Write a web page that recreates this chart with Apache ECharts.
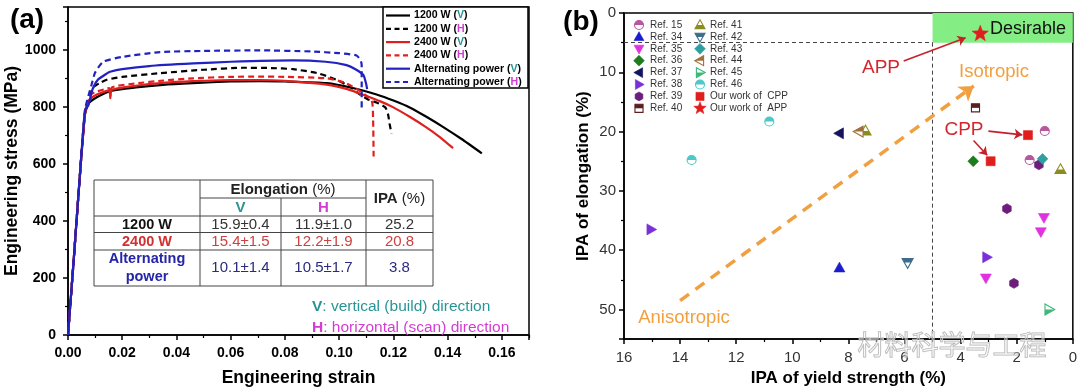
<!DOCTYPE html>
<html><head><meta charset="utf-8">
<script src="https://cdn.jsdelivr.net/npm/echarts@6/dist/echarts.min.js"></script>
<style>html,body{margin:0;padding:0;background:#fff}#c{width:1080px;height:392px}</style>
</head><body><div id="c"></div>
<script>
const F = 'Liberation Sans, Arial, Helvetica, sans-serif';

// ---------- Panel (a): tensile curves [engineering strain, engineering stress (MPa)]
const c1200V = [[0,0],[0.002,250],[0.004,510],[0.0062,770],[0.0075,810],[0.01,830],[0.0155,855],[0.025,868],[0.035,877],[0.046,883],[0.06,889],[0.0708,890],[0.08,889],[0.0954,883],[0.105,866],[0.1138,843],[0.12,822],[0.126,798],[0.132,766],[0.1384,729],[0.145,688],[0.1526,637]];
const c1200H = [[0,0],[0.002,250],[0.004,510],[0.0063,780],[0.0085,850],[0.0095,870],[0.012,885],[0.0143,895],[0.02,905],[0.034,918],[0.05,930],[0.0646,937],[0.075,936],[0.083,932],[0.092,918],[0.099,895],[0.104,870],[0.1077,843],[0.1106,826],[0.1138,815],[0.117,798],[0.118,775],[0.1186,740],[0.1193,706]];
const c2400V = [[0,0],[0.002,250],[0.004,510],[0.0063,780],[0.0075,821],[0.01,840],[0.014,855],[0.0152,858],[0.0156,838],[0.0162,860],[0.025,874],[0.035,884],[0.046,890],[0.06,894],[0.0708,894],[0.08,891],[0.0954,878],[0.103,862],[0.11,838],[0.115,820],[0.12,798],[0.126,765],[0.132,729],[0.137,695],[0.142,655]];
const c2400H = [[0,0],[0.002,250],[0.004,510],[0.0063,780],[0.008,838],[0.01,852],[0.0145,864],[0.0152,866],[0.0156,830],[0.0162,868],[0.025,882],[0.035,892],[0.046,900],[0.06,905],[0.0708,906],[0.08,905],[0.0954,900],[0.102,885],[0.1077,855],[0.112,821],[0.1125,760],[0.1127,626]];
const cAltV = [[0,0],[0.002,250],[0.004,510],[0.0063,790],[0.0075,805],[0.009,860],[0.011,895],[0.0145,918],[0.0155,923],[0.02,932],[0.03,943],[0.0462,952],[0.06,958],[0.083,963],[0.095,958],[0.1027,946],[0.106,932],[0.1089,912],[0.110,878],[0.1103,862]];
const cAltH = [[0,0],[0.002,250],[0.004,510],[0.0063,790],[0.0087,878],[0.01,920],[0.013,958],[0.02,975],[0.034,992],[0.05,996],[0.0708,998],[0.09,994],[0.1,988],[0.1064,980],[0.108,960],[0.1083,946],[0.1083,860],[0.1083,786]];

// table of panel (a)
const tableRows = ['1200 W', '2400 W', 'Alternating\npower'];
const elongV = ['15.9\u00b10.4', '15.4\u00b11.5', '10.1\u00b11.4'];
const elongH = ['11.9\u00b11.0', '12.2\u00b11.9', '10.5\u00b11.7'];
const ipaVals = ['25.2', '20.8', '3.8'];

// ---------- Panel (b): [IPA of yield strength (%), IPA of elongation (%)]
const ref15 = [[1.0,19.9],[1.54,24.8]];
const ref34 = [[8.32,43.0]];
const ref35 = [[1.03,34.5],[1.14,36.9],[3.1,44.7]];
const ref36 = [[3.55,25.0]];
const ref37 = [[8.32,20.3]];
const ref38 = [[15.04,36.5],[3.07,41.2]];
const ref39 = [[1.21,25.6],[2.35,33.0],[2.1,45.6]];
const ref40 = [[3.47,16.0]];
const ref41 = [[7.39,19.9],[0.44,26.4]];
const ref42 = [[5.89,42.1]];
const ref43 = [[1.08,24.6]];
const ref44 = [[7.62,20.0]];
const ref45 = [[0.85,50.0]];
const ref46 = [[10.82,18.3],[13.59,24.8]];
const cppWork = [[1.6,20.6],[2.93,25.0]];
const appWork = [[3.3,3.5]];

const desirableZone = [[5,0],[0,5]];
const limitV = [[5,5],[5,55]];
const limitH = [[16,5],[5,5]];
const isoArrow = [[14.0,48.5],[3.53,12.3]];
const appArrow = [[6.03,8.1],[3.82,4.19]];
const cppArrow1 = [[3.01,19.93],[1.8,20.55]];
const cppArrow2 = [[3.54,21.5],[3.05,24.0]];

// ---------- symbol drawing helpers
function polyPts(kind, cx, cy, s) {
  const r = s / 2;
  switch (kind) {
    case 'tri': return [[cx, cy - r * 1.15], [cx + r * 1.1, cy + r * 0.8], [cx - r * 1.1, cy + r * 0.8]];
    case 'tridown': return [[cx, cy + r * 1.15], [cx + r * 1.1, cy - r * 0.8], [cx - r * 1.1, cy - r * 0.8]];
    case 'trileft': return [[cx - r * 1.15, cy], [cx + r * 0.8, cy - r * 1.1], [cx + r * 0.8, cy + r * 1.1]];
    case 'triright': return [[cx + r * 1.15, cy], [cx - r * 0.8, cy - r * 1.1], [cx - r * 0.8, cy + r * 1.1]];
    case 'diamond': return [[cx, cy - r * 1.2], [cx + r * 1.2, cy], [cx, cy + r * 1.2], [cx - r * 1.2, cy]];
    case 'square': return [[cx - r * 0.9, cy - r * 0.9], [cx + r * 0.9, cy - r * 0.9], [cx + r * 0.9, cy + r * 0.9], [cx - r * 0.9, cy + r * 0.9]];
    case 'hex': { const p = []; for (let i = 0; i < 6; i++) { const a = Math.PI / 6 + i * Math.PI / 3; p.push([cx + r * Math.cos(a), cy + r * Math.sin(a)]); } return p; }
    case 'star': { const p = []; for (let i = 0; i < 10; i++) { const a = -Math.PI / 2 + i * Math.PI / 5; const rr = i % 2 ? r * 0.42 : r; p.push([cx + rr * Math.cos(a), cy + rr * Math.sin(a)]); } return p; }
  }
}
function clipHalf(pts, cy, keep) {
  const inside = p => keep === 'top' ? p[1] <= cy : p[1] >= cy;
  const out = [];
  for (let i = 0; i < pts.length; i++) {
    const a = pts[i], b = pts[(i + 1) % pts.length];
    const ia = inside(a), ib = inside(b);
    if (ia) out.push(a);
    if (ia !== ib) { const t = (cy - a[1]) / (b[1] - a[1]); out.push([a[0] + t * (b[0] - a[0]), cy]); }
  }
  return out;
}
function symbolEls(kind, color, half, cx, cy, s) {
  const els = [];
  if (kind === 'circle') {
    const r = s / 2;
    if (half) {
      els.push({ type: 'circle', shape: { cx, cy, r }, style: { fill: '#fff' } });
      els.push({ type: 'sector', shape: { cx, cy, r, r0: 0, startAngle: half === 'top' ? Math.PI : 0, endAngle: half === 'top' ? Math.PI * 2 : Math.PI, clockwise: true }, style: { fill: color } });
      els.push({ type: 'circle', shape: { cx, cy, r }, style: { fill: 'none', stroke: color, lineWidth: 1.1 } });
    } else {
      els.push({ type: 'circle', shape: { cx, cy, r }, style: { fill: color } });
    }
  } else {
    const pts = polyPts(kind, cx, cy, s);
    if (half) {
      els.push({ type: 'polygon', shape: { points: pts }, style: { fill: '#fff' } });
      els.push({ type: 'polygon', shape: { points: clipHalf(pts, cy, half) }, style: { fill: color } });
      els.push({ type: 'polygon', shape: { points: pts }, style: { fill: 'none', stroke: color, lineWidth: 1.1 } });
    } else {
      els.push({ type: 'polygon', shape: { points: pts }, style: { fill: color, stroke: color, lineWidth: 0.6 } });
    }
  }
  return els;
}

const refs = [
  { name: 'Ref. 15', data: ref15, kind: 'circle', color: '#B8579E', half: 'top', size: 9 },
  { name: 'Ref. 34', data: ref34, kind: 'tri', color: '#1C1CCF', half: null, size: 10 },
  { name: 'Ref. 35', data: ref35, kind: 'tridown', color: '#E033E0', half: null, size: 10 },
  { name: 'Ref. 36', data: ref36, kind: 'diamond', color: '#1E7B1E', half: null, size: 9 },
  { name: 'Ref. 37', data: ref37, kind: 'trileft', color: '#14145E', half: null, size: 10 },
  { name: 'Ref. 38', data: ref38, kind: 'triright', color: '#7A2FD8', half: null, size: 10 },
  { name: 'Ref. 39', data: ref39, kind: 'hex', color: '#6B1F7A', half: null, size: 10 },
  { name: 'Ref. 40', data: ref40, kind: 'square', color: '#5C1E1E', half: 'top', size: 9 },
  { name: 'Ref. 41', data: ref41, kind: 'tri', color: '#8C8C1E', half: 'bottom', size: 10 },
  { name: 'Ref. 42', data: ref42, kind: 'tridown', color: '#3D6C8C', half: 'top', size: 10 },
  { name: 'Ref. 43', data: ref43, kind: 'diamond', color: '#2E9E9E', half: null, size: 9 },
  { name: 'Ref. 44', data: ref44, kind: 'trileft', color: '#A0703C', half: 'top', size: 10 },
  { name: 'Ref. 45', data: ref45, kind: 'triright', color: '#3CB878', half: 'bottom', size: 10 },
  { name: 'Ref. 46', data: ref46, kind: 'circle', color: '#4CC8C8', half: 'top', size: 9 },
  { name: 'Our work of  CPP', data: cppWork, kind: 'square', color: '#E01E1E', half: null, size: 10 },
  { name: 'Our work of  APP', data: appWork, kind: 'star', color: '#E01E1E', half: null, size: 17 }
];

// ---------- text helper
function T(x, y, text, o) {
  o = o || {};
  const size = o.size || 14, weight = o.weight || 'normal', fam = o.family || F;
  const style = {
    text, x: 0, y: 0, fill: o.color || '#000',
    font: weight + ' ' + size + 'px ' + fam,
    fontSize: size, fontWeight: weight, fontFamily: fam,
    textAlign: o.align || 'center', textVerticalAlign: 'middle',
    align: o.align || 'center', verticalAlign: 'middle',
    lineHeight: o.lineHeight || size * 1.2
  };
  if (o.stroke) { style.stroke = o.stroke; style.lineWidth = o.lineWidth || 1; }
  if (o.rich) style.rich = o.rich;
  return { type: 'text', x, y, rotation: o.rotation || 0, z: 100, style };
}
function L(x1, y1, x2, y2, color, w, dash) {
  return { type: 'line', z: 100, shape: { x1, y1, x2, y2 }, style: { stroke: color, lineWidth: w, lineDash: dash || null } };
}

const TEAL = '#2A9494', MAG = '#D43CD4';
const graphics = [];
// panel labels
graphics.push(T(27, 20, '(a)', { size: 28, weight: 'bold' }));
graphics.push(T(581, 22, '(b)', { size: 28, weight: 'bold' }));

// legend (a)
graphics.push({ type: 'rect', z: 99, shape: { x: 383, y: 7, width: 145, height: 81 }, style: { fill: '#fff', stroke: '#000', lineWidth: 1.5 } });
const legA = [
  { n: '1200 W', d: 'V', c: '#000', dash: false }, { n: '1200 W', d: 'H', c: '#000', dash: true },
  { n: '2400 W', d: 'V', c: '#E0201E', dash: false }, { n: '2400 W', d: 'H', c: '#E0201E', dash: true },
  { n: 'Alternating power', d: 'V', c: '#2222C0', dash: false }, { n: 'Alternating power', d: 'H', c: '#2222C0', dash: true }
];
const legFont = 10.6;
legA.forEach((e, i) => {
  const y = 15.5 + 13.3 * i;
  graphics.push(L(386, y, 410, y, e.c, 2.2, e.dash ? [5, 3.5] : null));
  const key = e.d === 'V' ? 'v' : 'h';
  graphics.push(T(414, y, e.n + ' ({' + key + '|' + e.d + '})', {
    size: legFont, weight: 'bold', align: 'left',
    rich: {
      v: { fill: TEAL, fontWeight: 'bold', fontSize: legFont, fontFamily: F },
      h: { fill: MAG, fontWeight: 'bold', fontSize: legFont, fontFamily: F }
    }
  }));
});

// table (a)
const TB = { x0: 94, x1: 200, x2: 281, x3: 366, x4: 433, y0: 180, y1: 198, y2: 216, y3: 232.5, y4: 250, y5: 286 };
graphics.push({ type: 'rect', z: 99, shape: { x: TB.x0, y: TB.y0, width: TB.x4 - TB.x0, height: TB.y5 - TB.y0 }, style: { fill: '#fff', stroke: '#444', lineWidth: 1 } });
graphics.push(L(TB.x1, TB.y0, TB.x1, TB.y5, '#444', 1));
graphics.push(L(TB.x3, TB.y0, TB.x3, TB.y5, '#444', 1));
graphics.push(L(TB.x2, TB.y1, TB.x2, TB.y5, '#444', 1));
graphics.push(L(TB.x1, TB.y1, TB.x3, TB.y1, '#444', 1));
graphics.push(L(TB.x0, TB.y2, TB.x4, TB.y2, '#444', 1));
graphics.push(L(TB.x0, TB.y3, TB.x4, TB.y3, '#444', 1));
graphics.push(L(TB.x0, TB.y4, TB.x4, TB.y4, '#444', 1));
const tf = 15;
graphics.push(T((TB.x1 + TB.x3) / 2, 189.5, '{b|Elongation} (%)', { size: tf, color: '#222', rich: { b: { fontWeight: 'bold', fontSize: tf, fontFamily: F, fill: '#222' } } }));
graphics.push(T((TB.x1 + TB.x2) / 2, 207.5, 'V', { size: tf, weight: 'bold', color: TEAL }));
graphics.push(T((TB.x2 + TB.x3) / 2, 207.5, 'H', { size: tf, weight: 'bold', color: MAG }));
graphics.push(T((TB.x3 + TB.x4) / 2, 198.5, '{b|IPA} (%)', { size: tf, color: '#222', rich: { b: { fontWeight: 'bold', fontSize: tf, fontFamily: F, fill: '#222' } } }));
const rowY = [224.5, 241.5, 268];
const rowLabelColor = ['#111', '#D42F2F', '#2525A8'];
const rowValColor = ['#333', '#D04040', '#2A2A80'];
tableRows.forEach((r, i) => {
  graphics.push(T((TB.x0 + TB.x1) / 2, rowY[i], r, { size: 14.5, weight: 'bold', color: rowLabelColor[i], lineHeight: 18 }));
  graphics.push(T((TB.x1 + TB.x2) / 2, rowY[i], elongV[i], { size: tf, color: rowValColor[i] }));
  graphics.push(T((TB.x2 + TB.x3) / 2, rowY[i], elongH[i], { size: tf, color: rowValColor[i] }));
  graphics.push(T((TB.x3 + TB.x4) / 2, rowY[i], ipaVals[i], { size: tf, color: rowValColor[i] }));
});
graphics.push(T(312, 307, '{b|V}: vertical (build) direction', { size: 15.5, color: TEAL, align: 'left', rich: { b: { fontWeight: 'bold', fontSize: 15.5, fontFamily: F, fill: TEAL } } }));
graphics.push(T(312, 327.5, '{b|H}: horizontal (scan) direction', { size: 15.5, color: MAG, align: 'left', rich: { b: { fontWeight: 'bold', fontSize: 15.5, fontFamily: F, fill: MAG } } }));

// legend (b)
refs.forEach((r, i) => {
  const col = Math.floor(i / 8), row = i % 8;
  const sx = col ? 700 : 639, tx = col ? 710 : 650, y = 25 + 11.9 * row;
  const s = r.kind === 'star' ? 13 : 9;
  graphics.push({ type: 'group', z: 100, children: symbolEls(r.kind, r.color, r.half, sx, y, s) });
  graphics.push(T(tx, y, r.name, { size: 10, color: '#333', align: 'left' }));
});

// annotations (b)
graphics.push(T(990, 29.5, 'Desirable', { size: 18, color: '#111', align: 'left' }));
graphics.push(T(881, 68, 'APP', { size: 19, color: '#D4262E' }));
graphics.push(T(964, 130, 'CPP', { size: 19, color: '#D4262E' }));
graphics.push(T(994, 72, 'Isotropic', { size: 18.5, color: '#F0A040' }));
graphics.push(T(684, 318, 'Anisotropic', { size: 18.5, color: '#F0A040' }));
graphics.push(T(952, 345, '材料科学与工程', { size: 27, family: 'Noto Sans CJK SC', color: 'rgba(255,255,255,0.3)', stroke: '#b4b4b4', lineWidth: 1 }));

// ---------- option
const axisCommon = {
  axisLine: { show: true, onZero: false, lineStyle: { color: '#000', width: 1.5 } },
  axisTick: { show: true, length: 5, lineStyle: { color: '#000', width: 1.5 } },
  minorTick: { show: true, splitNumber: 2, length: 3, lineStyle: { color: '#000', width: 1.2 } },
  splitLine: { show: false }
};
const isMult = (v, step) => Math.abs(v / step - Math.round(v / step)) < 1e-6;

function lineSeries(name, data, color, dashed) {
  return { type: 'line', name, data, xAxisIndex: 0, yAxisIndex: 0, showSymbol: false, symbol: 'none', smooth: 0.2,
    lineStyle: { color, width: 2.2, type: dashed ? [6, 4] : 'solid' }, z: 3 };
}

const series = [
  lineSeries('1200 W (V)', c1200V, '#000', false),
  lineSeries('1200 W (H)', c1200H, '#000', true),
  lineSeries('2400 W (V)', c2400V, '#E0201E', false),
  lineSeries('2400 W (H)', c2400H, '#E0201E', true),
  lineSeries('Alternating power (V)', cAltV, '#2222C0', false),
  lineSeries('Alternating power (H)', cAltH, '#2222C0', true),
  {
    type: 'scatter', name: 'guides', xAxisIndex: 1, yAxisIndex: 1, data: [], z: 1, silent: true,
    markArea: { silent: true, itemStyle: { color: '#84EE84' }, data: [[{ coord: desirableZone[0] }, { coord: desirableZone[1] }]] },
    markLine: {
      silent: true, animation: false, label: { show: false },
      data: [
        [{ coord: limitV[0], symbol: 'none', lineStyle: { color: '#444', width: 1, type: [4, 3] } }, { coord: limitV[1], symbol: 'none' }],
        [{ coord: limitH[0], symbol: 'none', lineStyle: { color: '#444', width: 1, type: [4, 3] } }, { coord: limitH[1], symbol: 'none' }],
        [{ coord: isoArrow[0], symbol: 'none', lineStyle: { color: '#F0A040', width: 3.5, type: [11, 8] } }, { coord: isoArrow[1], symbol: 'arrow', symbolSize: 14 }],
        [{ coord: appArrow[0], symbol: 'none', lineStyle: { color: '#C8202A', width: 1.6, type: 'solid' } }, { coord: appArrow[1], symbol: 'arrow', symbolSize: 8 }],
        [{ coord: cppArrow1[0], symbol: 'none', lineStyle: { color: '#C8202A', width: 1.6, type: 'solid' } }, { coord: cppArrow1[1], symbol: 'arrow', symbolSize: 8 }],
        [{ coord: cppArrow2[0], symbol: 'none', lineStyle: { color: '#C8202A', width: 1.6, type: 'solid' } }, { coord: cppArrow2[1], symbol: 'arrow', symbolSize: 8 }]
      ]
    }
  }
].concat(refs.map(r => ({
  type: 'custom', name: r.name, xAxisIndex: 1, yAxisIndex: 1, data: r.data, z: 5,
  encode: { x: 0, y: 1 },
  renderItem: (params, api) => {
    const p = api.coord([api.value(0), api.value(1)]);
    return { type: 'group', children: symbolEls(r.kind, r.color, r.half, p[0], p[1], r.size) };
  }
})));

const option = {
  animation: false,
  backgroundColor: '#fff',
  grid: [
    { left: 68, top: 7, width: 461, height: 335.5, show: true, borderColor: '#000', borderWidth: 1.5, backgroundColor: '#fff' },
    { left: 624, top: 13, width: 449, height: 328.5, show: true, borderColor: '#000', borderWidth: 1.5, backgroundColor: '#fff' }
  ],
  xAxis: [
    Object.assign({}, axisCommon, {
      gridIndex: 0, type: 'value', min: 0, max: 0.17, interval: 0.02,
      axisLabel: { color: '#000', fontWeight: 'bold', fontSize: 14, fontFamily: F, margin: 11, showMaxLabel: false,
        formatter: v => isMult(v, 0.02) && v < 0.169 ? v.toFixed(2) : '' },
      name: 'Engineering strain', nameLocation: 'middle', nameGap: 34,
      nameTextStyle: { color: '#000', fontWeight: 'bold', fontSize: 17.5, fontFamily: F }
    }),
    Object.assign({}, axisCommon, {
      gridIndex: 1, type: 'value', min: 0, max: 16, interval: 2, inverse: true,
      axisLabel: { color: '#333', fontSize: 15, fontFamily: F, margin: 11, formatter: v => String(v) },
      name: 'IPA of yield strength (%)', nameLocation: 'middle', nameGap: 29,
      nameTextStyle: { color: '#000', fontWeight: 'bold', fontSize: 17, fontFamily: F }
    })
  ],
  yAxis: [
    Object.assign({}, axisCommon, {
      gridIndex: 0, type: 'value', min: 0, max: 1150, interval: 200,
      axisLabel: { color: '#000', fontWeight: 'bold', fontSize: 14, fontFamily: F, margin: 12, showMaxLabel: false,
        formatter: v => isMult(v, 200) && v <= 1000 ? String(v) : '' },
      name: 'Engineering stress (MPa)', nameLocation: 'middle', nameGap: 46,
      nameTextStyle: { color: '#000', fontWeight: 'bold', fontSize: 17.5, fontFamily: F }
    }),
    Object.assign({}, axisCommon, {
      gridIndex: 1, type: 'value', min: 0, max: 55, interval: 10, inverse: true,
      axisLabel: { color: '#333', fontSize: 15, fontFamily: F, margin: 8, showMaxLabel: false,
        formatter: v => isMult(v, 10) && v <= 50 ? String(v) : '' },
      name: 'IPA of elongation (%)', nameLocation: 'middle', nameGap: 32,
      nameTextStyle: { color: '#000', fontWeight: 'bold', fontSize: 17, fontFamily: F }
    })
  ],
  series,
  graphic: { elements: graphics }
};

const chart = echarts.init(document.getElementById('c'), null, { renderer: 'canvas' });
chart.setOption(option);
</script>
</body></html>
